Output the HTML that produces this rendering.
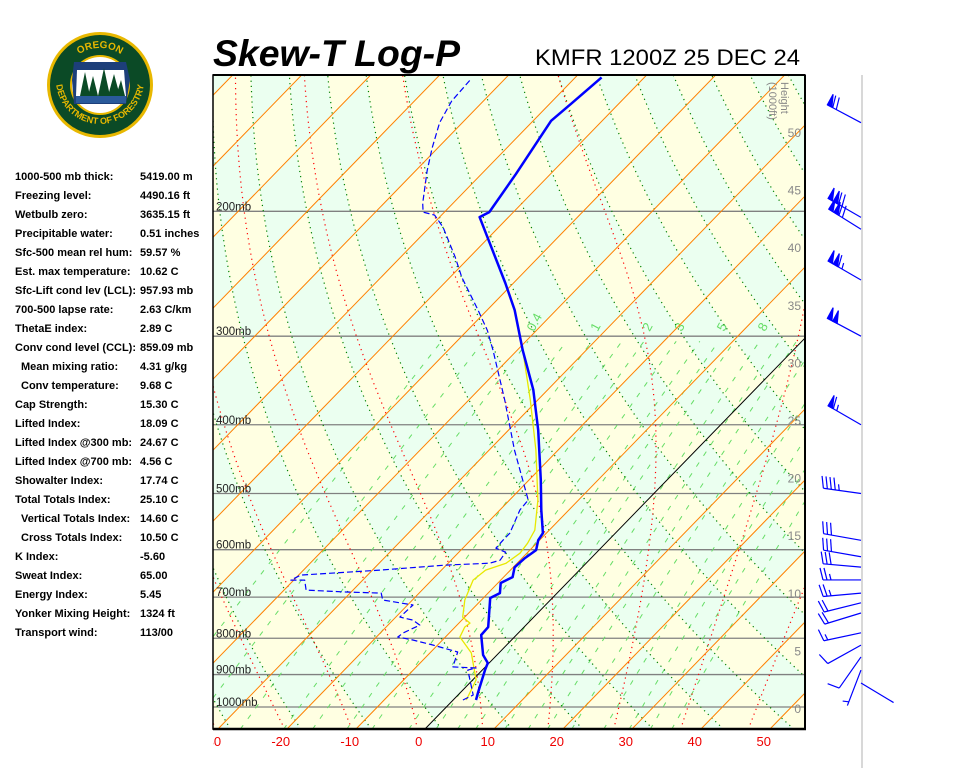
<!DOCTYPE html>
<html><head><meta charset="utf-8">
<style>
body{margin:0;background:#fff;width:960px;height:768px;overflow:hidden;font-family:"Liberation Sans",sans-serif}
svg{display:block}
</style></head>
<body>
<svg id="chart" width="960" height="768" viewBox="0 0 960 768" xmlns="http://www.w3.org/2000/svg">
<defs><clipPath id="plotClip"><rect x="213" y="75" width="592" height="654"/></clipPath>
<clipPath id="axClip"><rect x="213" y="729" width="640" height="39"/></clipPath>
<path id="logoTop" d="M62,86 A38,38 0 0 1 138,86"/>
<path id="logoBot" d="M56,80 A44,44 0 0 0 144,80"/>
</defs>
<g>
<circle cx="100" cy="85" r="53" fill="#e8b800"/>
<circle cx="100" cy="85" r="50" fill="#0b4a26"/>
<text font-size="10" font-weight="bold" fill="#e8b800" text-anchor="middle"><textPath href="#logoTop" startOffset="50%">OREGON</textPath></text>
<text font-size="9" font-weight="bold" fill="#e8b800" text-anchor="middle"><textPath href="#logoBot" startOffset="50%">DEPARTMENT OF FORESTRY</textPath></text>
<circle cx="100" cy="85" r="30" fill="#e8b800"/>
<circle cx="100" cy="85" r="28" fill="#fff"/>
<path d="M74,62 L126,62 L130,80 L126,104 L74,104 L72,80Z" fill="#1d3f7a"/>
<path d="M77,70 L124,70 L126,96 L76,96Z" fill="#fff"/>
<path d="M76,96 L126,96 L126,103 L76,103Z" fill="#2a5a9a"/>
<g fill="#0b4a26"><polygon points="80,96 85,72 90,96"/><polygon points="88,96 93,76 98,96"/><polygon points="98,96 104,68 110,96"/><polygon points="108,96 114,74 120,96"/><polygon points="116,96 121,80 125,96"/></g>
</g>
<text x="213" y="66" font-size="37" font-weight="bold" font-style="italic" textLength="247" lengthAdjust="spacingAndGlyphs">Skew-T Log-P</text>
<text x="535" y="65" font-size="22" textLength="265" lengthAdjust="spacingAndGlyphs">KMFR 1200Z 25 DEC 24</text>
<g id="stats" font-size="11" font-weight="bold"></g>
<g id="plot" clip-path="url(#plotClip)"></g>
<g id="axes"></g>
<line x1="862" y1="75" x2="862" y2="768" stroke="#d8d8d8" stroke-width="2"/>
<g id="winds"></g>
</svg>
<script>
const tempP=[977.5,952.4,887,866.9,844.6,791.5,771.4,702,690.8,668.6,655.9,635.3,616.6,600.8,581.8,568.7,527.5,478.5,407,357,314,275.7,252.4,203.8,200.5,177.3,149.1,140.9,129.5];
const tempT=[3.3,2.5,0.4,-0.2,-2.0,-5.1,-5.2,-9.0,-8.3,-9.6,-8.7,-9.8,-9.6,-9.1,-10.2,-10.5,-14.0,-18.3,-25.7,-32.1,-39.2,-46.0,-51.2,-64.2,-63.5,-65.0,-67.4,-66.9,-66.2];
const dewP=[977.5,961.8,887,881,878,836.6,817.8,804.6,796.8,786.5,766.4,754.1,746.8,718.2,706.6,690.8,688.5,684.1,662.4,662.4,651.7,641.2,630.9,626.9,620.8,605,597.1,581.8,568.7,527.5,510.6,434.4,369,314,294.5,275.7,247.8,232.1,210.5,202.5,200.5,194.8,175.5,162.9,150,139.8,130];
const dewT=[1.4,2.2,-2.1,-1.2,-4.7,-6.1,-10.7,-14.3,-16.9,-16.7,-15.4,-17.1,-19.4,-19.2,-24.3,-25.5,-30.8,-36.8,-38.4,-40.4,-39.7,-28.9,-20.1,-14.0,-12.9,-13.2,-15.2,-15.3,-15.3,-17.1,-17.3,-26.3,-34.8,-43.5,-47.1,-51.3,-58.3,-62.1,-68.1,-71,-73.1,-74.4,-78.3,-80.8,-83.3,-84.6,-84.9];
const wbP=[977.5,916,839,796.8,771.4,761.5,746.8,706.6,662.4,641.2,626.9,606.9,587.5,563.2,510.6,434.4,369,309];
const wbT=[1.9,0.5,-4.0,-7.9,-8.6,-8.4,-10.3,-12.4,-14.0,-13.6,-11.6,-11.0,-11.3,-12.1,-15.9,-23.2,-31.1,-40.0];
const windP=[150,204,212,250,300,400,500,582,614,635,662,691,713,737,786,818,850,887,925];
const windDir=[298,300,302,300,298,300,278,280,280,275,270,265,256,253,258,241,215,201,121];
const windSpd=[70,120,120,115,100,65,45,30,30,30,25,25,20,20,15,10,10,5,0];
const pressureLevels=[200,300,400,500,600,700,800,900,1000];
const tempTicks=[-30,-20,-10,0,10,20,30,40,50];
const heightTicks=[0,5,10,15,20,25,30,35,40,45,50];
const mixRatios=[0.1,0.2,0.4,0.7,1,1.5,2,3,4,5,6,8,10,12,15,20,25,30,36];
const mixLabels=[0.4,1,2,3,5,8];
const statLabels=["1000-500 mb thick:","Freezing level:","Wetbulb zero:","Precipitable water:","Sfc-500 mean rel hum:","Est. max temperature:","Sfc-Lift cond lev (LCL):","700-500 lapse rate:","ThetaE index:","Conv cond level (CCL):","  Mean mixing ratio:","  Conv temperature:","Cap Strength:","Lifted Index:","Lifted Index @300 mb:","Lifted Index @700 mb:","Showalter Index:","Total Totals Index:","  Vertical Totals Index:","  Cross Totals Index:","K Index:","Sweat Index:","Energy Index:","Yonker Mixing Height:","Transport wind:"];
const statValues=["5419.00 m","4490.16 ft","3635.15 ft","0.51 inches","59.57 %","10.62 C","957.93 mb","2.63 C/km","2.89 C","859.09 mb","4.31 g/kg","9.68 C","15.30 C","18.09 C","24.67 C","4.56 C","17.74 C","25.10 C","14.60 C","10.50 C","-5.60","65.00","5.45","1324 ft","113/00"];

const NS="http://www.w3.org/2000/svg";
const P_TOP=128,P_BOT=1075;
function yOf(p){return 707-308*Math.log(1000/p);}
function xOf(T,p){return 425+6.9*T+0.972*(729-yOf(p));}
function hY(h){return 709-11.52*h;}
function mk(tag,attrs,parent){const e=document.createElementNS(NS,tag);for(const k in attrs)e.setAttribute(k,attrs[k]);parent.appendChild(e);return e;}
const plot=document.getElementById('plot'),axes=document.getElementById('axes'),winds=document.getElementById('winds'),stats=document.getElementById('stats');
function pts(arr){return arr.map(a=>a[0].toFixed(1)+','+a[1].toFixed(1)).join(' ');}
function presRange(n){const a=[];for(let i=0;i<=n;i++){a.push(P_BOT*Math.pow(P_TOP/P_BOT,i/n));}return a;}

// background: green base + yellow checker cells bounded by isotherms and dry adiabats
{const bg=mk('rect',{x:213,y:75,width:592,height:654,fill:'#ebfff0'},plot);

}
function pOnAd(Tc,th){return 1000*Math.pow((Tc+273.15)/th,3.5);}
for(let T=-170;T<70;T+=10){
  for(let th=200;th<560;th+=10){
    if((((Math.floor(T/10)+th/10)%2)+2)%2!==1) continue;
    const poly=[];
    for(let k=0;k<=6;k++){const t=T+10*k/6;const p=pOnAd(t,th);poly.push([xOf(t,p),yOf(p)]);}
    for(let k=6;k>=0;k--){const t=T+10*k/6;const p=pOnAd(t,th+10);poly.push([xOf(t,p),yOf(p)]);}
    const ys=poly.map(a=>a[1]),xs=poly.map(a=>a[0]);
    if(Math.max(...ys)<60||Math.min(...ys)>740||Math.max(...xs)<200||Math.min(...xs)>820)continue;
    const e=mk('polygon',{points:pts(poly),fill:'#ffffe2'},plot);
    
    
  }
}
// pressure lines
pressureLevels.forEach(p=>{
  const e=mk('line',{x1:213,x2:805,y1:yOf(p),y2:yOf(p),stroke:'#808080','stroke-width':1.3},plot);
  
  
});
// mixing ratio lines
function tdFromW(w,p){const e=w*p/(622+w);const l=Math.log(e/6.112);return 243.5*l/(17.67-l);}
mixRatios.forEach(w=>{
  const arr=[];for(let p=P_BOT;p>=300;p-=10){arr.push([xOf(tdFromW(w,p),p),yOf(p)]);}
  const e=mk('polyline',{points:pts(arr),fill:'none',stroke:'#66dd66','stroke-width':1,'stroke-dasharray':'5,8'},plot);
  
  
});
mixLabels.forEach(w=>{
  const x=xOf(tdFromW(w,300),300)+2,y=yOf(300)-4;
  const t=mk('text',{x:x,y:y,'font-size':13,fill:'#66dd66',transform:'rotate(-62 '+x+' '+y+')'},plot);
  t.textContent=String(w);
  
  
});
// dry adiabats
for(let th=200;th<=560;th+=10){
  const arr=presRange(60).map(p=>[xOf(th*Math.pow(p/1000,0.2857)-273.15,p),yOf(p)]);
  const e=mk('polyline',{points:pts(arr),fill:'none',stroke:'#008000','stroke-width':1.2,'stroke-dasharray':'1.2,4'},plot);
  
  
}
// moist adiabats
function moistGrad(Tk,p){const Tc=Tk-273.15;const es=6.112*Math.exp(17.67*Tc/(Tc+243.5));const rs=0.622*es/(p-es);
  return (287*Tk+2.5e6*rs)/(p*(1004+2.5e6*2.5e6*rs*0.622/(287*Tk*Tk)));}
for(let T0=-45;T0<=45;T0+=10){
  let Tk=T0+273.15;
  const down=[];let Td=Tk;for(let p=1000;p<P_BOT;p+=5){Td+=moistGrad(Td,p)*5;down.push([xOf(Td-273.15,p+5),yOf(p+5)]);}
  const up=[[xOf(T0,1000),yOf(1000)]];for(let p=1000;p>P_TOP;p-=5){Tk-=moistGrad(Tk,p)*5;up.push([xOf(Tk-273.15,p-5),yOf(p-5)]);}
  const all=down.reverse().concat(up);
  const e=mk('polyline',{points:pts(all),fill:'none',stroke:'#ff0000','stroke-width':1.2,'stroke-dasharray':'1.2,4'},plot);
  
  
}
// isotherms
for(let T=-160;T<=60;T+=10){
  const e=mk('line',{x1:xOf(T,P_BOT),y1:yOf(P_BOT),x2:xOf(T,P_TOP),y2:yOf(P_TOP),stroke:T===0?'#000':'#ff8000','stroke-width':1},plot);
  
  
}
// pressure labels
pressureLevels.forEach(p=>{
  const t=mk('text',{x:216,y:yOf(p)-1,'font-size':11.5,fill:'#222'},plot);
  t.textContent=p+'mb';
  
  
});
// height scale
heightTicks.forEach(h=>{
  const t=mk('text',{x:801,y:hY(h)+4,'font-size':12,fill:'#888','text-anchor':'end'},plot);
  t.textContent=String(h);
  
  
});
{const t=mk('text',{x:781,y:82,'font-size':11,fill:'#888',transform:'rotate(90 781 82)'},plot);t.textContent='Height';


const t2=mk('text',{x:769,y:82,'font-size':11,fill:'#888',transform:'rotate(90 769 82)'},plot);t2.textContent='(1000ft)';

}
// sounding lines
function trace(P,T,color,w,dash,name){
  const arr=P.map((p,i)=>[xOf(T[i],p),yOf(p)]);
  const a={points:pts(arr),fill:'none',stroke:color,'stroke-width':w,'stroke-linejoin':'round'};if(dash)a['stroke-dasharray']=dash;
  const e=mk('polyline',a,plot);
  
  
}
trace(wbP,wbT,'#e8e800',1.3,null,'wetbulb-trace');
trace(dewP,dewT,'#0000ff',1.2,'6,3','dewpoint-trace');
trace(tempP,tempT,'#0000ff',2.5,null,'temperature-trace');
// border
{const b=mk('rect',{x:213,y:75,width:592,height:654,fill:'none',stroke:'#000','stroke-width':1.5},axes);


mk('line',{x1:213,x2:806,y1:729,y2:729,stroke:'#000','stroke-width':2.5},axes);
mk('line',{x1:805,x2:805,y1:75,y2:729,stroke:'#000','stroke-width':2},axes);
mk('line',{x1:213,x2:805,y1:75,y2:75,stroke:'#000','stroke-width':2},axes);}
// x tick labels
const ag=mk('g',{'clip-path':'url(#axClip)'},axes);
tempTicks.forEach(T=>{
  const t=mk('text',{x:xOf(T,P_BOT)-6,y:746,'font-size':13,fill:'#ee0000','text-anchor':'middle'},ag);
  t.textContent=String(T);
  
  
});
// stats
statLabels.forEach((s,i)=>{
  const ind=s.startsWith('  ');
  const t=mk('text',{x:ind?21:15,y:180+i*19},stats);t.textContent=s.trim();
  
  
  const v=mk('text',{x:140,y:180+i*19},stats);v.textContent=statValues[i];
  
  
});
// wind barbs
windP.forEach((p,i)=>{
  const bx=861,by=yOf(p),d=windDir[i]*Math.PI/180;
  const ux=Math.sin(d),uy=-Math.cos(d);const fx=-uy,fy=ux;
  const L=38,tx=bx+ux*L,ty=by+uy*L;
  const g=mk('g',{stroke:'#0000ff','stroke-width':1.2,fill:'#0000ff'},winds);
  
  
  mk('line',{x1:bx,y1:by,x2:tx,y2:ty},g);
  let s=Math.round(windSpd[i]/5)*5,pos=0;
  while(s>=50){const ax=tx-ux*pos,ay=ty-uy*pos;
    mk('polygon',{points:pts([[ax,ay],[ax-ux*5,ay-uy*5],[ax+fx*12,ay+fy*12]])},g);pos+=6;s-=50;}
  while(s>=10){const ax=tx-ux*pos,ay=ty-uy*pos;mk('line',{x1:ax,y1:ay,x2:ax+fx*12+ux*3,y2:ay+fy*12+uy*3},g);pos+=4;s-=10;}
  if(s>=5){if(pos===0)pos=4;const ax=tx-ux*pos,ay=ty-uy*pos;mk('line',{x1:ax,y1:ay,x2:ax+fx*6+ux*1.5,y2:ay+fy*6+uy*1.5},g);}
});
</script>
</body></html>
